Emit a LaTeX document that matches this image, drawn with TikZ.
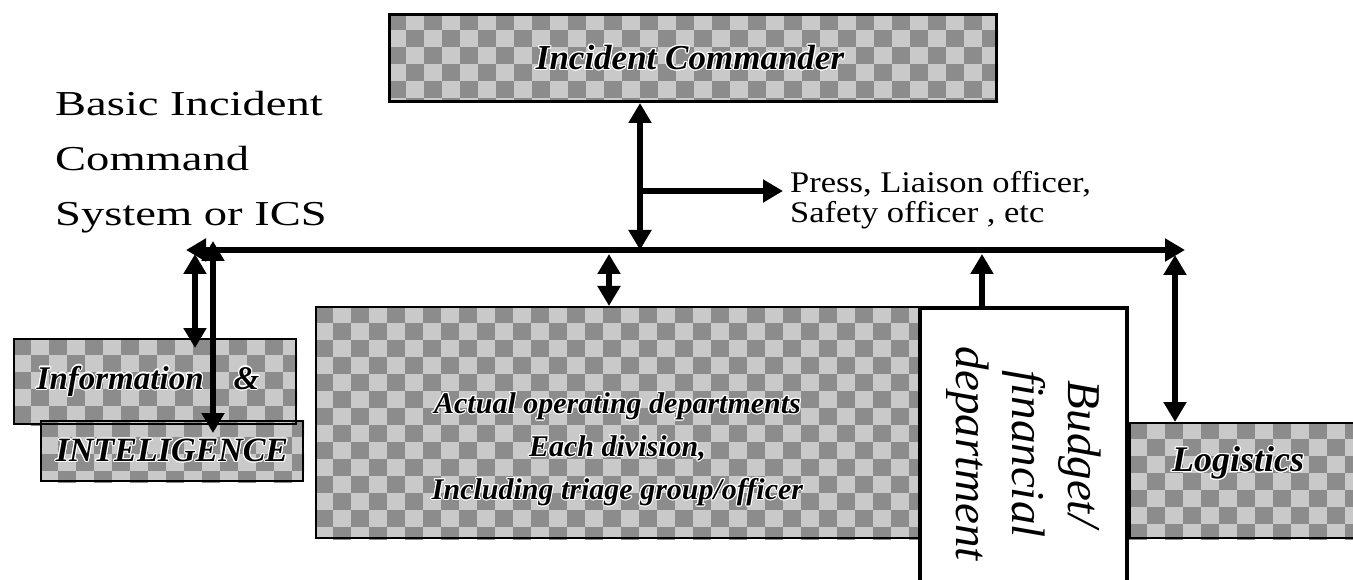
\documentclass[tikz,border=0pt]{standalone}
\usepackage{fontspec}
\setmainfont{Liberation Serif}
\newfontfamily\titlefont{Liberation Serif}[FakeStretch=1.33]
\newfontfamily\pressfont{Liberation Serif}[FakeStretch=1.15]
\usepackage[copies]{contour}
\contourlength{1.1pt}
\usetikzlibrary{arrows.meta,backgrounds}
\definecolor{chkdark}{gray}{0.55}
\definecolor{chklight}{gray}{0.79}
\newcommand\chkfill[1]{%
  \begin{pgfonlayer}{background}
  \begin{scope}
    \clip (#1.north west) rectangle (#1.south east);
    \fill[chklight] (#1.north west) rectangle (#1.south east);
    \foreach \j in {0,...,14}{
      \pgfmathtruncatemacro\off{mod(\j,2)}
      \foreach \i in {0,...,17}{
        \fill[chkdark, shift={(#1.north west)}]
          ({(2*\i+\off)*18pt},{-\j*17pt}) rectangle ++(18pt,-17pt);
      }}
  \end{scope}
  \end{pgfonlayer}}
\tikzset{
  box/.style={draw=black, line width=2pt, inner sep=0pt, anchor=north west,
    font=\bfseries\itshape\fontsize{33}{42}\selectfont},
  boxtext/.style={font=\bfseries\itshape\fontsize{36}{42}\selectfont, inner sep=0pt},
  bigtri/.tip={Triangle[length=20pt,width=22pt]},
  conn/.style={line width=6.5pt},
  oneway/.style={conn,-bigtri},
  twoway/.style={conn,bigtri-bigtri},
}
\begin{document}
\begin{tikzpicture}[x=1pt,y=-1pt]
\useasboundingbox (0,0) rectangle (1353,580);
\clip (0,0) rectangle (1353,580);

% title
\node[anchor=north west, align=left, inner sep=0pt,
  font=\titlefont\fontsize{35}{55}\selectfont] (title) at (55,91)
  {Basic Incident\\Command\\System or ICS};

% boxes
\node[box, line width=3pt, minimum width=607pt, minimum height=87pt,
  font=\bfseries\itshape\fontsize{35}{42}\selectfont] (IC) at (388,13)
  {\contour{white}{Incident Commander}\hspace*{6pt}};
\chkfill{IC}
\node[box, minimum width=282pt, minimum height=85pt] (Info) at (13,338)
  {\contour{white}{Information}\hspace{30pt}\contour{white}{\&}\hspace*{14pt}};
\chkfill{Info}
\node[box, minimum width=262pt, minimum height=60pt,
  font=\bfseries\itshape\fontsize{34}{42}\selectfont] (Intel) at (40,420)
  {\contour{white}{INTELIGENCE}};
\chkfill{Intel}
\node[box, minimum width=603pt, minimum height=231pt,
  label={[boxtext, align=center, font=\bfseries\itshape\fontsize{30}{43}\selectfont,
    yshift=-27pt]center:{\contour{white}{Actual operating departments}\\
   \contour{white}{Each division,}\\
   \contour{white}{Including triage group/officer}}}] (Act) at (315,306) {};
\chkfill{Act}
\node[draw=black, fill=white, line width=4pt, rotate=-90, minimum width=292pt,
  minimum height=207pt, inner sep=0pt, align=center,
  font=\itshape\fontsize{47}{56}\selectfont] (Budget) at (1023.5,454)
  {Budget/\\financial\\department};
\node[box, minimum width=240pt, minimum height=115pt,
  label={[boxtext, xshift=-12pt, yshift=17pt]center:{\contour{white}{Logistics}}}]
  (Log) at (1129,422) {};
\chkfill{Log}

% side text
\node[anchor=north west, align=left, inner sep=0pt,
  font=\pressfont\fontsize{30}{30}\selectfont] (press) at (790,171.5)
  {Press, Liaison officer,\\Safety officer , etc};

% junction coordinates
\coordinate (busL) at (186,250);
\coordinate (busR) at (1185,250);
\coordinate (icJ) at (640,250);
\coordinate (brJ) at (640,191);
\coordinate (infA) at (195,254);
\coordinate (infB) at (213,241);
\coordinate (actJ) at (609,254);
\coordinate (budJ) at (982,254);
\coordinate (logJ) at (1175,255);

% connectors
\draw[twoway] (busL) -- (busR);
\draw[twoway] (IC.south -| icJ) -- (icJ);
\draw[oneway, shorten >=7pt] (brJ) -- (press.west |- brJ);
\draw[twoway, shorten >=-10pt] (infA) -- (infA |- Info.north);
\draw[twoway, shorten >=-13pt] (infB) -- (infB |- Intel.north);
\draw[twoway] (actJ) -- (actJ |- Act.north);
\draw[oneway] (budJ |- Budget.west) -- (budJ);
\draw[twoway] (logJ) -- (logJ |- Log.north);
\end{tikzpicture}
\end{document}
